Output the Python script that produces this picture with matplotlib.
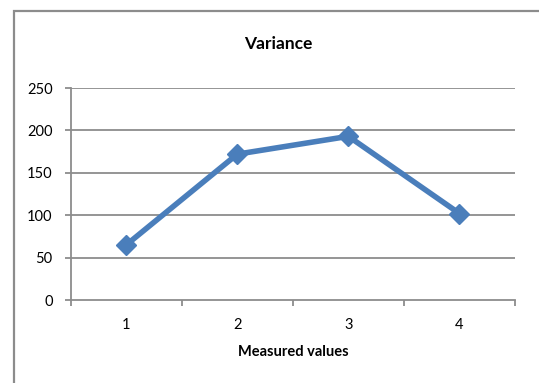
import matplotlib

matplotlib.use("Agg")
import matplotlib.pyplot as plt
from matplotlib.patches import Rectangle

# measurement index vs. variance
measured = [1, 2, 3, 4]
variance = [65, 172, 193, 102]
y_ticks = [0, 50, 100, 150, 200, 250]

plt.rcParams["font.family"] = ["Lato", "DejaVu Sans"]

fig = plt.figure(figsize=(5.39, 3.83), dpi=100)
fig.patch.set_facecolor("white")

# chart-area frame (runs off the right and bottom edges)
frame = Rectangle((13.5 / 539, -0.05), 1.2, 1 - 11 / 383 + 0.05,
                  transform=fig.transFigure, fill=False,
                  edgecolor="#8c8c8c", linewidth=1.6, zorder=0)
fig.patches.append(frame)

ax = fig.add_axes([70.7 / 539, 1 - 300 / 383, (515 - 70.7) / 539, (300 - 88) / 383])

grid_c = "#8c8c8c"
for y in y_ticks[1:]:
    ax.axhline(y, color=grid_c, lw=1.3, zorder=1)

ax.plot(measured, variance, color="#4a7ebb", lw=4, marker="D", ms=10,
        mfc="#4a7ebb", mec="#4a7ebb", zorder=3, solid_capstyle="butt")

ax.set_xlim(0.5, 4.5)
ax.set_ylim(0, 250)
ax.set_yticks(y_ticks)
ax.set_xticks(measured)
ax.set_xticks([0.5, 1.5, 2.5, 3.5, 4.5], minor=True)
ax.tick_params(axis="x", which="major", length=0, pad=13, labelsize=10.5)
ax.tick_params(axis="x", which="minor", length=4, width=1.3, color=grid_c, direction="out")
ax.tick_params(axis="y", length=4, width=1.3, color=grid_c, pad=9, labelsize=10.5)

for side in ("top", "right"):
    ax.spines[side].set_visible(False)
for side in ("left", "bottom"):
    ax.spines[side].set_color(grid_c)
    ax.spines[side].set_linewidth(1.3)

ax.set_xlabel("Measured values", fontsize=10.5, fontweight="bold", labelpad=9)
fig.text(278 / 539, 1 - 44 / 383, "Variance", ha="center", va="center",
         fontsize=12.5, fontweight="bold")

fig.savefig("out.png", dpi=100)
